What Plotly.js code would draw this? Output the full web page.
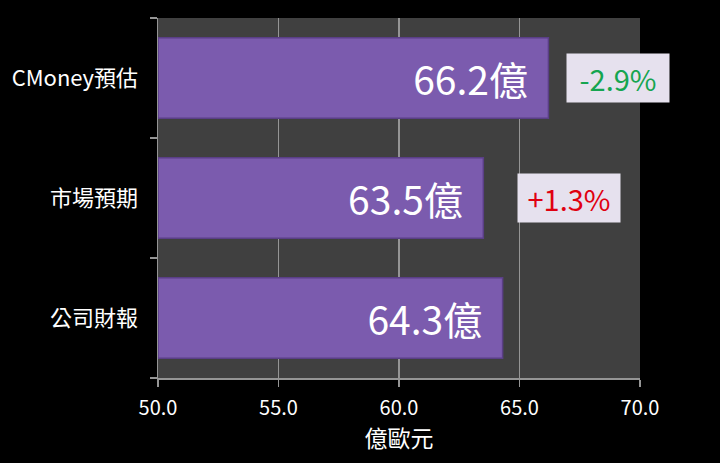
<!DOCTYPE html>
<html>
<head>
<meta charset="utf-8">
<script src="https://cdn.plot.ly/plotly-3.0.1.min.js"></script>
<style>html,body{margin:0;padding:0;background:#000;}#chart{width:720px;height:463px;}</style>
</head>
<body>
<div id="chart"></div>
<script>
// Data
const categories = ["CMoney預估", "市場預期", "公司財報"];
const values = [66.2, 63.5, 64.3];
const valueSuffix = "億";
const changeLabels = ["-2.9%", "+1.3%", ""];
const changeColors = ["#16a550", "#e00010", "#000"];
const xTickVals = [50, 55, 60, 65, 70];
const xAxisTitle = "億歐元";

const fontFamily = "'Noto Sans CJK TC', 'Open Sans', sans-serif";
const axisMin = 50;

const trace = {
  type: "bar",
  orientation: "h",
  y: categories,
  x: values.map(v => v - axisMin),
  base: axisMin,
  width: 0.67,
  marker: { color: "#7b5bae", line: { color: "#5a3f86", width: 1.5 } },
  text: values.map(v => v.toFixed(1) + valueSuffix + "\u00a0\u00a0"),
  textposition: "inside",
  insidetextanchor: "end",
  textfont: { color: "#ffffff", size: 39, family: fontFamily },
  hoverinfo: "skip"
};

const shifts = [18, 34, 0];
const annotations = [];
categories.forEach((c, i) => {
  if (!changeLabels[i]) return;
  annotations.push({
    x: values[i], y: c, xref: "x", yref: "y",
    text: changeLabels[i], showarrow: false,
    xanchor: "left", xshift: shifts[i],
    font: { color: changeColors[i], size: 29, family: fontFamily },
    bgcolor: "#e6e1ee", borderpad: 4, width: 94, height: 40
  });
});

const layout = {
  width: 720, height: 463,
  paper_bgcolor: "#000000",
  plot_bgcolor: "#404040",
  margin: { l: 158, r: 80, t: 18, b: 85 },
  showlegend: false,
  xaxis: {
    range: [50, 70],
    tickvals: xTickVals,
    ticktext: xTickVals.map(v => v.toFixed(1)),
    showgrid: true, gridcolor: "#959595", gridwidth: 1.5,
    zeroline: false,
    showline: true, linecolor: "#959595", linewidth: 1.5,
    ticks: "outside", ticklen: 7, tickcolor: "#959595", tickwidth: 1.5,
    tickfont: { color: "#ffffff", size: 20, family: fontFamily },
    ticklabelstandoff: 4,
    title: { text: xAxisTitle, font: { color: "#ffffff", size: 23, family: fontFamily }, standoff: 6 },
    fixedrange: true
  },
  yaxis: {
    type: "category",
    categoryorder: "array",
    categoryarray: categories.slice().reverse(),
    range: [-0.5, 2.5],
    showgrid: false, zeroline: false,
    showline: true, linecolor: "#959595", linewidth: 1.5,
    ticks: "outside", tickson: "boundaries", ticklen: 7, tickcolor: "#959595", tickwidth: 1.5,
    tickfont: { color: "#ffffff", size: 22, family: fontFamily },
    ticklabelstandoff: 14,
    fixedrange: true
  },
  annotations: annotations
};

Plotly.newPlot("chart", [trace], layout, { displayModeBar: false, staticPlot: true });
</script>
</body>
</html>
